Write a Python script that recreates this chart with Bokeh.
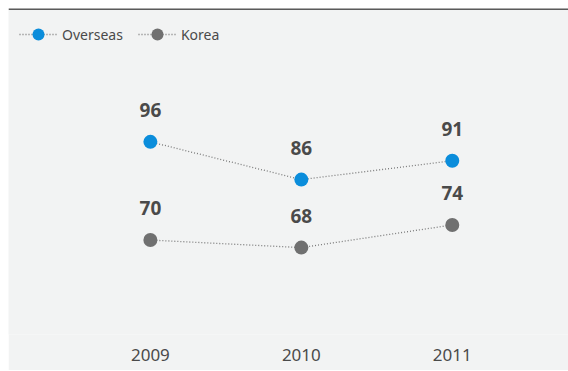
from bokeh.plotting import figure
from bokeh.models import Range1d, FixedTicker, Span, Legend, LegendItem, ColumnDataSource
from bokeh.core.properties import value
from bokeh.embed import file_html
from bokeh.resources import INLINE

years = [2009, 2010, 2011]
year_labels = ["2009", "2010", "2011"]
overseas = [96, 86, 91]
korea = [70, 68, 74]

BG = "#f2f3f3"
BLUE = "#0b8ddb"
GRAY = "#707070"
TEXT = "#4a4a4a"
FONT = "Noto Sans"

p = figure(width=560, height=362, output_backend="svg", toolbar_location=None,
           x_range=Range1d(2008.06, 2011.77), y_range=Range1d(45.0, 131.3),
           min_border_left=0, min_border_right=0, min_border_top=0, min_border_bottom=36)
p.margin = (8, 0, 0, 8)
p.background_fill_color = BG
p.border_fill_color = BG
p.outline_line_color = None
p.grid.visible = False
p.yaxis.visible = False

ax = p.xaxis[0]
ax.ticker = FixedTicker(ticks=years)
ax.major_label_overrides = {y: l for y, l in zip(years, year_labels)}
ax.axis_line_color = None
ax.major_tick_line_color = None
ax.minor_tick_line_color = None
ax.major_label_standoff = 8
ax.major_label_text_font = FONT
ax.major_label_text_font_size = "17px"
ax.major_label_text_color = TEXT

items = []
for name, vals, col in [("Overseas", overseas, BLUE), ("Korea", korea, GRAY)]:
    src = ColumnDataSource(dict(x=years, y=vals, t=[str(v) for v in vals]))
    ln = p.line("x", "y", source=src, line_color="#7a7a7a", line_width=1.3, line_dash="1 2")
    sc = p.scatter("x", "y", source=src, size=14, fill_color=col, line_color=None)
    p.text("x", "y", text="t", source=src, text_align="center", text_baseline="middle",
           y_offset=-32, text_font_size="19px", text_font_style="bold", text_color=TEXT,
           text_font=value(FONT))
    items.append(LegendItem(label=name, renderers=[ln, sc]))

leg = Legend(items=items, location="top_left", orientation="horizontal")
leg.background_fill_alpha = 0
leg.border_line_color = None
leg.margin = 11
leg.padding = 0
leg.glyph_width = 38
leg.glyph_height = 30
leg.label_standoff = 5
leg.spacing = 15
leg.label_text_font = FONT
leg.label_text_font_size = "14px"
leg.label_text_color = TEXT
p.add_layout(leg)

p.add_layout(Span(location=131.3, dimension="width", line_color="#5a5a5a", line_width=3))

open("out.html", "w").write(file_html(p, INLINE))
